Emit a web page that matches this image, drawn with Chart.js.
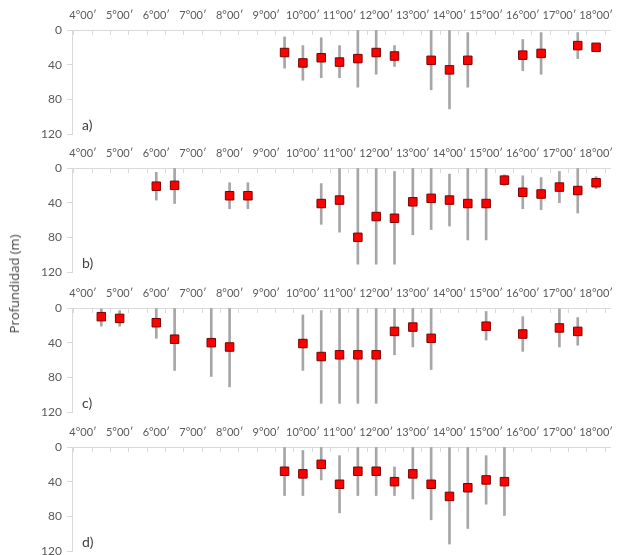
<!DOCTYPE html>
<html>
<head>
<meta charset="utf-8">
<script src="https://cdn.jsdelivr.net/npm/chart.js@4.4.0/dist/chart.umd.min.js"></script>
<style>
  html, body { margin: 0; padding: 0; background: #fff; overflow: hidden; }
  #wrap { position: relative; width: 617px; height: 555px; }
  #wrap canvas { position: absolute; left: 0; }
  #ytitle {
    position: absolute; left: 14px; top: 284px;
    transform: translate(-50%, -50%) rotate(-90deg);
    font-family: "Open Sans", sans-serif; font-size: 13px; font-weight: 400;
    color: #404040; white-space: nowrap;
  }
</style>
</head>
<body>
<div id="wrap">
  <canvas id="panelA" width="617" height="144" style="top:0px"></canvas>
  <canvas id="panelB" width="617" height="144" style="top:138px"></canvas>
  <canvas id="panelC" width="617" height="144" style="top:278px"></canvas>
  <canvas id="panelD" width="617" height="144" style="top:417px"></canvas>
  <div id="ytitle">Profundidad (m)</div>
</div>
<script>
// longitude (degrees) of each station, mean depth and depth range (m)
const lonA   = [9.5, 10, 10.5, 11, 11.5, 12, 12.5, 13.5, 14, 14.5, 16, 16.5, 17.5, 18];
const depthA = [26, 38, 32, 37, 33, 26, 30, 35, 46, 35, 29, 27, 18, 20];
const minA   = [8, 18, 9, 18, 0, 0, 18, 0, 0, 3, 11, 3, 3, 16];
const maxA   = [44, 58, 55, 55, 66, 51, 42, 69, 91, 66, 47, 51, 33, 24];

const lonB   = [6, 6.5, 8, 8.5, 10.5, 11, 11.5, 12, 12.5, 13, 13.5, 14, 14.5, 15, 15.5, 16, 16.5, 17, 17.5, 18];
const depthB = [21, 20, 32, 32, 41, 37, 80, 56, 58, 39, 35, 37, 41, 41, 14, 28, 30, 22, 26, 17];
const minB   = [5, 0, 17, 17, 18, 0, 0, 0, 4, 0, 0, 7, 0, 0, 8, 9, 11, 4, 0, 10];
const maxB   = [37, 41, 47, 47, 65, 74, 111, 111, 111, 77, 71, 67, 83, 83, 20, 47, 48, 40, 52, 24];

const lonC   = [4.5, 5, 6, 6.5, 7.5, 8, 10, 10.5, 11, 11.5, 12, 12.5, 13, 13.5, 15, 16, 17, 17.5];
const depthC = [10, 12, 17, 36, 40, 45, 41, 56, 54, 54, 54, 27, 22, 35, 21, 30, 23, 27];
const minC   = [1, 3, 0, 0, 0, 0, 8, 3, 0, 0, 0, 0, 0, 0, 4, 10, 1, 11];
const maxC   = [21, 21, 35, 72, 79, 91, 72, 110, 110, 110, 110, 54, 45, 71, 37, 50, 45, 43];

const lonD   = [9.5, 10, 10.5, 11, 11.5, 12, 12.5, 13, 13.5, 14, 14.5, 15, 15.5];
const depthD = [28, 31, 20, 43, 28, 28, 40, 31, 43, 57, 47, 38, 40];
const minD   = [0, 4, 0, 10, 0, 0, 23, 0, 0, 0, 0, 10, 0];
const maxD   = [56, 56, 38, 76, 56, 56, 56, 60, 84, 112, 94, 66, 79];

// axis ticks: a tick every half degree, labelled on the whole degrees
const lonTicks = [4, 4.5, 5, 5.5, 6, 6.5, 7, 7.5, 8, 8.5, 9, 9.5, 10, 10.5, 11, 11.5,
                  12, 12.5, 13, 13.5, 14, 14.5, 15, 15.5, 16, 16.5, 17, 17.5, 18];
const depthTicks = [0, 40, 80, 120];

Chart.defaults.font.family = 'Lato';

// "a)", "b)" ... in the lower left corner of each panel
const panelLetter = {
    id: 'panelLetter',
    afterDraw(chart, args, opts) {
        const {ctx, chartArea} = chart;
        ctx.save();
        ctx.font = '14px Lato';
        ctx.fillStyle = '#404040';
        ctx.textBaseline = 'alphabetic';
        ctx.fillText(opts.text, chartArea.left + 10, chartArea.bottom - 4);
        ctx.restore();
    }
};

function chartPanel(canvasId, letter, lon, depth, lo, hi) {
    const ctx = document.getElementById(canvasId).getContext('2d');
    return new Chart(ctx, {
        type: 'scatter',
        plugins: [panelLetter],
        data: {
            datasets: [
                {
                    type: 'scatter',
                    label: 'Media',
                    data: lon.map((x, i) => ({x: x, y: depth[i]})),
                    pointStyle: 'rect',
                    pointRadius: 6,
                    pointHoverRadius: 6,
                    backgroundColor: '#ff0000',
                    borderColor: '#7a0000',
                    borderWidth: 1,
                    order: 0
                },
                {
                    type: 'bar',
                    label: 'Rango',
                    data: lon.map((x, i) => ({x: x, y: [lo[i], hi[i]]})),
                    backgroundColor: '#a6a6a6',
                    borderWidth: 0,
                    barThickness: 2,
                    order: 1
                }
            ]
        },
        options: {
            responsive: false,
            animation: false,
            layout: {
                padding: {left: 0, right: 2, top: 0, bottom: 10}
            },
            scales: {
                x: {
                    type: 'linear',
                    position: 'top',
                    min: 3.7,
                    max: 18.38,
                    offset: false,
                    afterBuildTicks: (s) => { s.ticks = lonTicks.map(v => ({value: v})); },
                    afterFit: (s) => { s.height = 30; s.paddingLeft = 0; s.paddingRight = 0; },
                    grid: {
                        drawOnChartArea: false,
                        drawTicks: true,
                        tickLength: -5,
                        offset: true,
                        color: '#d9d9d9'
                    },
                    border: {color: '#d9d9d9'},
                    ticks: {
                        autoSkip: false,
                        maxRotation: 0,
                        padding: 13,
                        color: '#595959',
                        font: {size: 11},
                        callback: function(value) {
                            return Number.isInteger(value) ? `${value}°00′` : '';
                        }
                    }
                },
                y: {
                    type: 'linear',
                    reverse: true,
                    min: 0,
                    max: 120,
                    afterBuildTicks: (s) => { s.ticks = depthTicks.map(v => ({value: v})); },
                    afterFit: (s) => { s.width = 72; s.paddingTop = 0; s.paddingBottom = 0; },
                    grid: {
                        drawOnChartArea: false,
                        tickLength: 5,
                        color: '#d9d9d9'
                    },
                    border: {color: '#d9d9d9'},
                    ticks: {
                        padding: 5,
                        color: '#595959',
                        font: {size: 12}
                    }
                }
            },
            plugins: {
                legend: {display: false},
                tooltip: {enabled: false},
                panelLetter: {text: letter}
            }
        }
    });
}

chartPanel('panelA', 'a)', lonA, depthA, minA, maxA);
chartPanel('panelB', 'b)', lonB, depthB, minB, maxB);
chartPanel('panelC', 'c)', lonC, depthC, minC, maxC);
chartPanel('panelD', 'd)', lonD, depthD, minD, maxD);
</script>
</body>
</html>
